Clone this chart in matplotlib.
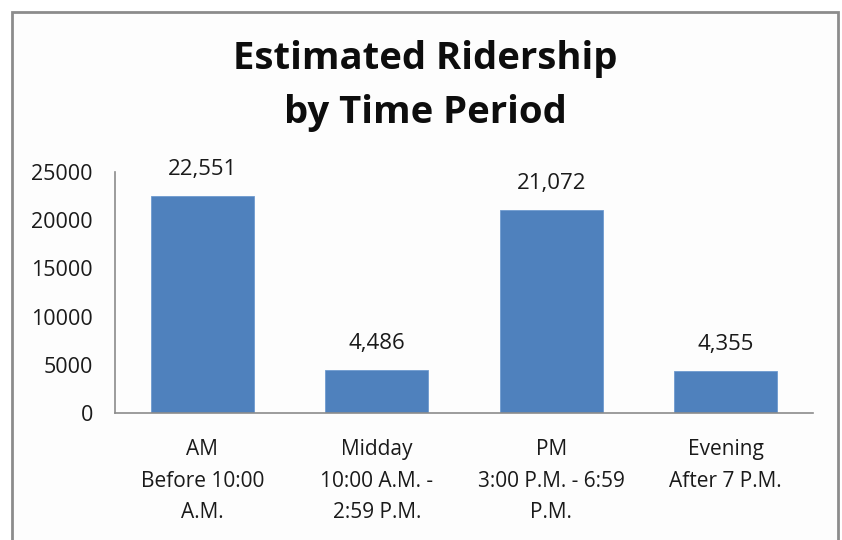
import matplotlib.pyplot as plt
from matplotlib.patches import Rectangle

categories = ["AM\nBefore 10:00\nA.M.", "Midday\n10:00 A.M. -\n2:59 P.M.",
              "PM\n3:00 P.M. - 6:59\nP.M.", "Evening\nAfter 7 P.M."]
riders = [22551, 4486, 21072, 4355]
yticks = [0, 5000, 10000, 15000, 20000, 25000]

plt.rcParams['font.family'] = ['Open Sans', 'DejaVu Sans']

fig = plt.figure(figsize=(8.42, 5.4), dpi=100)
fig.patch.set_facecolor('white')

# chart frame (runs off the bottom of the picture)
fig.patches.append(Rectangle((12 / 842, -0.1), 826 / 842, 1.1 - 12 / 540,
                             transform=fig.transFigure, facecolor='#fdfdfd',
                             edgecolor='#8c8c8c', linewidth=2, zorder=-10))

ax = fig.add_axes([115 / 842, 1 - 413 / 540, (813 - 115) / 842, (413 - 172) / 540])
ax.set_facecolor('none')

x = range(len(riders))
bars = ax.bar(x, riders, width=0.59, color='#4f81bd', edgecolor='#6f9bd0', linewidth=0.6)
for i, v in enumerate(riders):
    ax.annotate(f"{v:,}", (i, v), xytext=(0, 19), textcoords='offset points',
                ha='center', va='center', fontsize=16, color='#1a1a1a')

ax.set_xlim(-0.5, len(riders) - 0.5)
ax.set_ylim(0, 25000)
ax.set_yticks(yticks)
ax.set_yticklabels([str(t) for t in yticks], fontsize=15.5, color='#1a1a1a')
ax.set_xticks(list(x))
ax.set_xticklabels(categories, fontsize=15, color='#1a1a1a', linespacing=1.65)
ax.tick_params(axis='x', length=0, pad=19)
ax.tick_params(axis='y', length=0, pad=16)
for s in ['top', 'right']:
    ax.spines[s].set_visible(False)
for s in ['left', 'bottom']:
    ax.spines[s].set_color('#8c8c8c')
    ax.spines[s].set_linewidth(1.2)

fig.text(425 / 842, 1 - 86 / 540, "Estimated Ridership\nby Time Period", ha='center', va='center',
         fontsize=27.5, fontweight='bold', color='#0d0d0d', linespacing=1.55)

fig.savefig('out.png', dpi=100)
